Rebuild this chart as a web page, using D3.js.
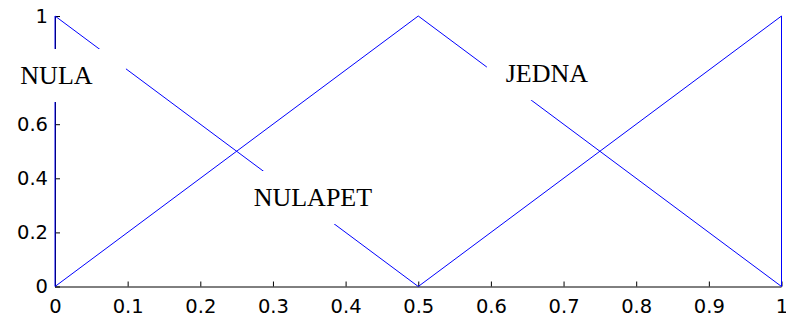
<!DOCTYPE html>
<html><head><meta charset="utf-8">
<script src="https://cdn.jsdelivr.net/npm/d3@7"></script>
<style>html,body{margin:0;padding:0;background:#fff;}svg{display:block;}</style>
</head><body>
<script>
// ---- data ----
const mfNames = ["NULA", "NULAPET", "JEDNA"];
const nulaX = [0, 0, 0.5];
const nulaY = [0, 1, 0];
const nulapetX = [0, 0.5, 1];
const nulapetY = [0, 1, 0];
const jednaX = [0.5, 1, 1];
const jednaY = [0, 1, 0];
const labelX = [0.002, 0.355, 0.677];
const labelY = [0.78, 0.329, 0.787];
const xTicks = [0, 0.1, 0.2, 0.3, 0.4, 0.5, 0.6, 0.7, 0.8, 0.9, 1];
const xTickLabels = ["0", "0.1", "0.2", "0.3", "0.4", "0.5", "0.6", "0.7", "0.8", "0.9", "1"];
const yTicks = [0, 0.2, 0.4, 0.6, 0.8, 1];
const yTickLabels = ["0", "0.2", "0.4", "0.6", "0.8", "1"];

// ---- layout / style ----
const W = 786, H = 318;
const mLeft = 55, mRight = 781.5, mTop = 16, mBottom = 286.5;
const boxHalfW = [69.5, 70, 60];
const boxHalfH = 26.5;

const svg = d3.select("body").append("svg").attr("width", W).attr("height", H);
const x = d3.scaleLinear().domain([0, 1]).range([mLeft, mRight]);
const y = d3.scaleLinear().domain([0, 1]).range([mBottom, mTop]);

const tickFont = "DejaVu Sans, Arial, sans-serif";

// x axis
const xAxis = d3.axisBottom(x).tickValues(xTicks)
  .tickFormat((d, i) => xTickLabels[i]).tickSizeInner(-5).tickSizeOuter(0).tickPadding(13);
const gx = svg.append("g").attr("transform", `translate(0,${mBottom})`).call(xAxis);
gx.select(".domain").attr("stroke", "#000").attr("d", `M${mLeft},0.5H${mRight}`);
gx.selectAll("text").attr("font-family", tickFont).attr("font-size", "19.5px").attr("fill", "#000");

// y axis
const yAxis = d3.axisLeft(y).tickValues(yTicks)
  .tickFormat((d, i) => yTickLabels[i]).tickSizeInner(-5).tickSizeOuter(0).tickPadding(7);
const gy = svg.append("g").attr("transform", `translate(${mLeft},0)`).call(yAxis);
gy.select(".domain").attr("stroke", "#000");
gy.selectAll("text").attr("font-family", tickFont).attr("font-size", "19.5px").attr("fill", "#000");

// membership functions
const series = [
  nulaX.map((v, i) => [v, nulaY[i]]),
  nulapetX.map((v, i) => [v, nulapetY[i]]),
  jednaX.map((v, i) => [v, jednaY[i]])
];
const line = d3.line().x(d => x(d[0])).y(d => y(d[1]));
svg.append("g").selectAll("path").data(series).join("path")
  .attr("d", line).attr("fill", "none").attr("stroke", "#0000ff").attr("stroke-width", 1);

// labels with white background boxes
const lg = svg.append("g");
mfNames.forEach((name, i) => {
  const cx = x(labelX[i]), cy = y(labelY[i]);
  lg.append("rect")
    .attr("x", cx - boxHalfW[i]).attr("y", cy - boxHalfH)
    .attr("width", boxHalfW[i] * 2).attr("height", boxHalfH * 2)
    .attr("fill", "#fff");
  lg.append("text")
    .attr("x", cx).attr("y", cy + 8.6)
    .attr("text-anchor", "middle")
    .attr("font-family", "Liberation Serif, Times New Roman, serif")
    .attr("font-size", "26px").attr("fill", "#000")
    .text(name);
});
</script>
</body></html>
